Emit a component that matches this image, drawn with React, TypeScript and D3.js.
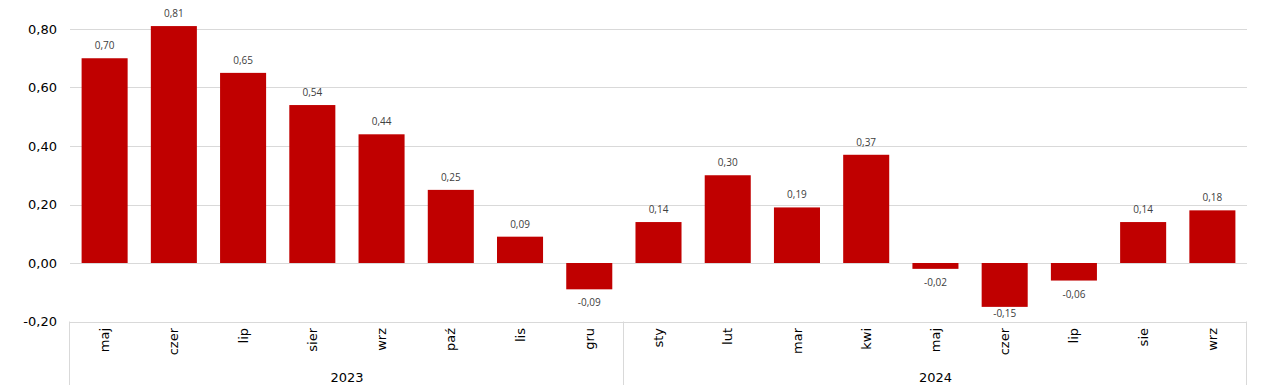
import React from 'react';
import * as d3 from 'd3';

const months = ['maj', 'czer', 'lip', 'sier', 'wrz', 'paź', 'lis', 'gru', 'sty', 'lut', 'mar', 'kwi', 'maj', 'czer', 'lip', 'sie', 'wrz'];
const years = ['2023', '2024'];
const yearCounts = [8, 9];
const values = [0.70, 0.81, 0.65, 0.54, 0.44, 0.25, 0.09, -0.09, 0.14, 0.30, 0.19, 0.37, -0.02, -0.15, -0.06, 0.14, 0.18];
const yTicks = [-0.2, 0, 0.2, 0.4, 0.6, 0.8];

const W = 1276;
const H = 386;
const left = 70;
const right = 1247;
const fmt = (v: number) => v.toFixed(2).replace('.', ',');

export default function App() {
  const x = d3.scaleBand<number>()
    .domain(d3.range(values.length))
    .range([left, right])
    .paddingInner(0.335)
    .paddingOuter(0.1675);
  const step = x.step();
  const y = d3.scaleLinear().domain([-0.2, 0.8]).range([321.5, 29]);
  const axisY = y(-0.2);

  // year group boundaries
  const bounds: number[] = [0];
  yearCounts.forEach((c, i) => bounds.push(bounds[i] + c));

  // labels below negative bars are kept above the category axis
  const labelY = (v: number) => (v >= 0 ? y(v) - 9 : Math.min(y(v) + 17, axisY - 4.5));

  return (
    <svg width={W} height={H} style={{ position: 'absolute', left: 0, top: 0, background: '#fff' }}>
      {yTicks.filter(t => t > -0.2).map(t => (
        <line key={t} x1={left} x2={right} y1={Math.round(y(t)) + 0.5} y2={Math.round(y(t)) + 0.5} stroke="#d9d9d9" />
      ))}
      {yTicks.map(t => (
        <text key={'l' + t} x={57} y={y(t)} dy="0.35em" textAnchor="end" fontFamily="DejaVu Sans" fontSize={13} fill="#000">
          {fmt(t)}
        </text>
      ))}
      {values.map((v, i) => (
        <rect key={i} x={x(i)} width={x.bandwidth()} y={y(Math.max(0, v))} height={Math.abs(y(v) - y(0))} fill="#c00000" />
      ))}
      {values.map((v, i) => (
        <text key={'v' + i} x={(x(i) as number) + x.bandwidth() / 2} y={labelY(v)}
          textAnchor="middle" fontFamily="Open Sans" fontSize={10} fill="#404040">
          {fmt(v)}
        </text>
      ))}
      {/* category axis box */}
      <line x1={left} x2={right} y1={Math.round(axisY) + 0.5} y2={Math.round(axisY) + 0.5} stroke="#d9d9d9" />
      {bounds.map((b, i) => {
        const bx = Math.round(left + b * step) - 0.5;
        return <line key={'b' + i} x1={bx} x2={bx} y1={axisY} y2={385} stroke="#d9d9d9" />;
      })}
      {months.map((m, i) => {
        const cx = (x(i) as number) + x.bandwidth() / 2;
        return (
          <text key={'m' + i} transform={`translate(${cx},328) rotate(-90)`} dy="0.35em" textAnchor="end"
            fontFamily="DejaVu Sans" fontSize={13} fill="#000">
            {m}
          </text>
        );
      })}
      {years.map((yr, i) => (
        <text key={yr} x={left + (bounds[i] + bounds[i + 1]) / 2 * step} y={382} textAnchor="middle"
          fontFamily="DejaVu Sans" fontSize={13} fill="#000">
          {yr}
        </text>
      ))}
    </svg>
  );
}
